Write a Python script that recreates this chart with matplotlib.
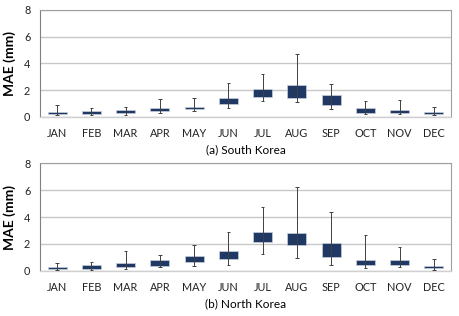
import numpy as np
import matplotlib.pyplot as plt

plt.rcParams['font.family'] = ['Lato', 'DejaVu Sans']

months = ['JAN', 'FEB', 'MAR', 'APR', 'MAY', 'JUN',
          'JUL', 'AUG', 'SEP', 'OCT', 'NOV', 'DEC']

# (a) South Korea
sk_min = [0.10, 0.15, 0.15, 0.25, 0.45, 0.62, 1.20, 1.12, 0.58, 0.18, 0.22, 0.12]
sk_q1 = [0.18, 0.23, 0.25, 0.40, 0.57, 0.97, 1.50, 1.42, 0.88, 0.30, 0.30, 0.20]
sk_q3 = [0.35, 0.43, 0.48, 0.63, 0.75, 1.37, 2.07, 2.35, 1.60, 0.63, 0.48, 0.33]
sk_max = [0.88, 0.68, 0.73, 1.30, 1.37, 2.55, 3.17, 4.70, 2.43, 1.20, 1.23, 0.70]

# (b) North Korea
nk_min = [0.05, 0.03, 0.12, 0.25, 0.37, 0.45, 1.27, 0.95, 0.45, 0.17, 0.25, 0.07]
nk_q1 = [0.13, 0.10, 0.25, 0.37, 0.63, 0.90, 2.12, 1.90, 1.00, 0.43, 0.43, 0.17]
nk_q3 = [0.30, 0.40, 0.57, 0.78, 1.07, 1.47, 2.90, 2.83, 2.04, 0.80, 0.78, 0.35]
nk_max = [0.57, 0.67, 1.50, 1.15, 1.90, 2.87, 4.73, 6.22, 4.40, 2.69, 1.79, 0.87]

box_color = '#1f3864'
whisker_color = '#404040'


def draw_panel(ax, lo, q1, q3, hi, title):
    x = np.arange(len(months))
    q1 = np.array(q1)
    q3 = np.array(q3)
    ax.bar(x, q3 - q1, bottom=q1, width=0.56, color=box_color,
           edgecolor='#c8d0dc', linewidth=0.5, zorder=3)
    ax.vlines(x, lo, hi, color=whisker_color, linewidth=0.7, zorder=4)
    ax.hlines(hi, x - 0.05, x + 0.05, color=whisker_color, linewidth=0.7, zorder=4)
    ax.hlines(lo, x - 0.05, x + 0.05, color=whisker_color, linewidth=0.7, zorder=4)
    ax.set_xlim(-0.5, len(months) - 0.5)
    ax.set_ylim(0, 8)
    ax.set_yticks([0, 2, 4, 6, 8])
    ax.set_xticks(x)
    ax.set_xticklabels(months)
    ax.tick_params(length=0, labelsize=7.8, colors='#222222', pad=8)
    ax.tick_params(axis='y', pad=7)
    ax.grid(axis='y', color='#c8c8c8', linewidth=1.0, zorder=0)
    ax.set_axisbelow(True)
    for side in ['top', 'right']:
        ax.spines[side].set_color('#a0a0a0')
        ax.spines[side].set_linewidth(0.8)
    ax.spines['left'].set_color('#808080')
    ax.spines['left'].set_linewidth(0.8)
    ax.spines['bottom'].set_color('#d0d0d0')
    ax.spines['bottom'].set_linewidth(1.0)
    ax.set_ylabel('MAE (mm)', fontsize=10, fontweight='bold', labelpad=6)
    ax.set_xlabel(title, fontsize=8.5, labelpad=4)


fig = plt.figure(figsize=(4.59, 3.16), dpi=100)
ax1 = fig.add_axes([40 / 459, 1 - 116.7 / 316, 411 / 459, 106.7 / 316])
ax2 = fig.add_axes([40 / 459, 1 - 270.7 / 316, 411 / 459, 107.4 / 316])

draw_panel(ax1, sk_min, sk_q1, sk_q3, sk_max, '(a) South Korea')
draw_panel(ax2, nk_min, nk_q1, nk_q3, nk_max, '(b) North Korea')

fig.savefig('out.png', dpi=100)
